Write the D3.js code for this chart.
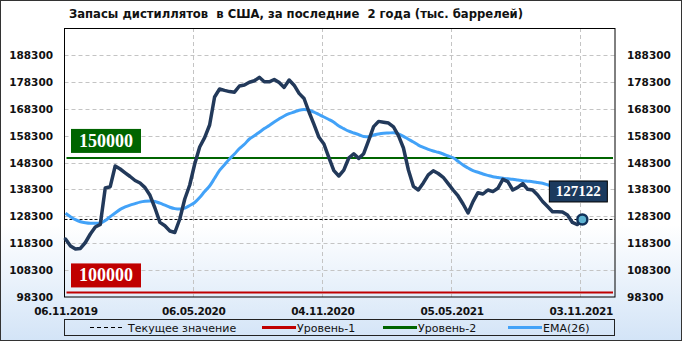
<!DOCTYPE html>
<html>
<head>
<meta charset="utf-8">
<script src="https://cdn.jsdelivr.net/npm/d3@7"></script>
<style>
  body { margin: 0; background: #fff; }
  svg { display: block; }
  text { font-family: "DejaVu Sans", sans-serif; }
</style>
</head>
<body>
<svg id="chart" width="682" height="341"></svg>
<script>
const title = "Запасы дистиллятов  в США, за последние  2 года (тыс. баррелей)";

// weekly values, first week 06.11.2019
const firstWeek = "2019-11-06";
const stocks = [
  119860, 117260, 116140, 116370, 118560, 121720, 124320, 125290, 138820, 139300,
  147000, 145880, 144470, 143100, 141610, 140680, 138970, 136110, 131390, 126030,
  124770, 122840, 122280, 127300, 134730, 139940, 147740, 154060, 157520, 162240,
  172650, 175620, 175100, 174660, 174430, 176740, 177110, 178150, 178670, 179970,
  178340, 178300, 179160, 178000, 176220, 178970, 177040, 173990, 172090, 167070,
  162460, 157670, 155180, 150120, 145290, 143280, 145440, 149970, 151570, 149830,
  151570, 156520, 161650, 163580, 163280, 162950, 161500, 158300, 153690, 145510,
  139450, 138080, 140720, 143730, 145210, 144210, 142800, 140420, 138080, 135850,
  132870, 129530, 133770, 137070, 136590, 138080, 137480, 138710, 142020, 141160,
  138080, 139040, 140490, 138340, 138080, 136220, 133800, 131940, 130010, 130010,
  129900, 128780, 126000, 125250, 127122
];
const ema26 = [
  129420, 128150, 127040, 126290, 125880, 125700, 125700, 125810, 126700, 128190,
  129530, 130870, 131760, 132460, 133020, 133580, 133880, 133990, 133800, 133170,
  132430, 131680, 131160, 130980, 131350, 132320, 133430, 135290, 137520, 139560,
  142430, 145330, 147480, 149600, 151460, 153510, 155070, 157040, 158230, 159560,
  160900, 162060, 163360, 164510, 165590, 166440, 167070, 167710, 167970, 167740,
  167070, 166140, 165220, 164290, 163250, 161870, 160870, 159940, 159270, 158670,
  158000, 157890, 158520, 158900, 159160, 159270, 159380, 158900, 158040, 156960,
  155920, 154770, 153910, 153170, 152580, 152090, 151460, 150720, 150050, 148750,
  147370, 146260, 145250, 144660, 144030, 143510, 143020, 142720, 142430, 142240,
  142060, 141800, 141540, 141350, 141160, 140870, 140570, 140050, 139490, 138900,
  138260, 137630, 136890, 136140, 135480
];
const yTicks = [98300, 108300, 118300, 128300, 138300, 148300, 158300, 168300, 178300, 188300];
const xTickLabels = ["06.11.2019", "06.05.2020", "04.11.2020", "05.05.2021", "03.11.2021"];
const level1 = 100000;
const level2 = 150000;
const legendNames = ["Текущее значение", "Уровень-1", "Уровень-2", "EMA(26)"];

const W = 682, H = 341;
const plotL = 64.5, plotR = 615, plotT = 28, plotB = 297;

const start = new Date(firstWeek + "T00:00:00");
const dates = stocks.map((_, i) => d3.timeDay.offset(start, i * 7));
const parseTick = d3.timeParse("%d.%m.%Y");

const x = d3.scaleTime()
  .domain([start, d3.timeDay.offset(start, 774)])
  .range([plotL + 1, plotR]);
const y = d3.scaleLinear()
  .domain([98300, 198300])
  .range([plotB, plotT]);

const svg = d3.select("#chart");

// background
const grad = svg.append("defs").append("linearGradient")
  .attr("id", "bg").attr("x1", 0).attr("x2", 0).attr("y1", 0).attr("y2", 1);
grad.append("stop").attr("offset", 0.66).attr("stop-color", "#ffffff");
grad.append("stop").attr("offset", 1).attr("stop-color", "#d3e4f7");
svg.append("rect").attr("x", 0.5).attr("y", 0.5).attr("width", W - 1).attr("height", H - 1)
  .attr("fill", "url(#bg)").attr("stroke", "#333").attr("stroke-width", 1);

// title
svg.append("text")
  .attr("x", 69).attr("y", 18)
  .attr("font-size", 13).attr("font-weight", "bold")
  .attr("textLength", 454).attr("lengthAdjust", "spacingAndGlyphs")
  .style("white-space", "pre")
  .attr("fill", "#111")
  .text(title);

// grid
const grid = svg.append("g");
grid.selectAll(".hg").data(yTicks.slice(1)).join("line")
  .attr("x1", plotL).attr("x2", plotR)
  .attr("y1", d => Math.round(y(d)) + 0.5).attr("y2", d => Math.round(y(d)) + 0.5)
  .attr("stroke", "#c4c4c4").attr("stroke-dasharray", "4,3");
grid.selectAll(".vg").data(xTickLabels.slice(1)).join("line")
  .attr("x1", d => Math.round(x(parseTick(d))) - 1.5).attr("x2", d => Math.round(x(parseTick(d))) - 1.5)
  .attr("y1", plotT).attr("y2", plotB)
  .attr("stroke", "#c4c4c4").attr("stroke-dasharray", "4,3");

// y labels both sides
const yl = svg.append("g").attr("font-size", 10.5).attr("font-weight", "bold").attr("fill", "#111");
yl.selectAll(".l").data(yTicks).join("text")
  .attr("x", 53).attr("y", d => y(d) + 4)
  .attr("text-anchor", "end").text(d => d);
yl.selectAll(".r").data(yTicks).join("text")
  .attr("x", 627).attr("y", d => y(d) + 4)
  .attr("text-anchor", "start").text(d => d);

// x labels
svg.append("g").attr("font-size", 10.5).attr("font-weight", "bold").attr("fill", "#111")
  .selectAll("text").data(xTickLabels).join("text")
  .attr("x", (d, i) => i === 0 ? 66 : x(parseTick(d)) - 1)
  .attr("y", 315)
  .attr("text-anchor", "middle")
  .attr("letter-spacing", -0.3)
  .text(d => d);

// level lines
const lastVal = stocks[stocks.length - 1];
svg.append("line")
  .attr("x1", plotL).attr("x2", plotR).attr("y1", y(lastVal)).attr("y2", y(lastVal))
  .attr("stroke", "#000").attr("stroke-width", 1).attr("stroke-dasharray", "3,2");
svg.append("line")
  .attr("x1", plotL + 2).attr("x2", plotR - 2).attr("y1", y(level2)).attr("y2", y(level2))
  .attr("stroke", "#006400").attr("stroke-width", 2);
svg.append("line")
  .attr("x1", plotL + 2).attr("x2", plotR - 2).attr("y1", y(level1)).attr("y2", y(level1))
  .attr("stroke", "#c00000").attr("stroke-width", 2);

// level boxes
function levelBox(val, fill) {
  const g = svg.append("g");
  const yy = y(val);
  g.append("rect").attr("x", 71).attr("y", yy - 29).attr("width", 70).attr("height", 24).attr("fill", fill);
  g.append("text").attr("x", 106).attr("y", yy - 11)
    .attr("text-anchor", "middle").attr("fill", "#fff")
    .attr("font-weight", "bold").attr("font-size", 18)
    .style("font-family", "'Liberation Serif', serif")
    .text(val);
}
levelBox(level2, "#006400");
levelBox(level1, "#c00000");

// plot border
svg.append("rect").attr("x", plotL).attr("y", plotT + 0.5).attr("width", plotR - plotL).attr("height", plotB - plotT - 0.5)
  .attr("fill", "none").attr("stroke", "#000").attr("stroke-width", 1);

// lines
const emaLine = d3.line().x((d, i) => x(dates[i])).y(d => y(d)).curve(d3.curveMonotoneX);
const stockLine = d3.line().x((d, i) => x(dates[i])).y(d => y(d));
svg.append("path").datum(ema26).attr("d", emaLine)
  .attr("fill", "none").attr("stroke", "#42a2f8").attr("stroke-width", 3);
svg.append("path").datum(stocks).attr("d", stockLine)
  .attr("fill", "none").attr("stroke", "#22395a").attr("stroke-width", 3.5)
  .attr("stroke-linejoin", "round").attr("stroke-linecap", "round");

// last value marker
const lx = x(dates[dates.length - 1]), ly = y(lastVal);
svg.append("circle").attr("cx", lx).attr("cy", ly).attr("r", 5)
  .attr("fill", "#5fb4d2").attr("stroke", "#12325a").attr("stroke-width", 2.5);
svg.append("rect").attr("x", lx - 33).attr("y", ly - 38.5).attr("width", 58).attr("height", 21)
  .attr("fill", "#1b3a5e").attr("stroke", "#000").attr("stroke-width", 1);
svg.append("text").attr("x", lx - 4).attr("y", ly - 23)
  .attr("text-anchor", "middle").attr("fill", "#fff")
  .attr("font-weight", "bold").attr("font-size", 15)
  .style("font-family", "'Liberation Serif', serif")
  .text(lastVal);

// legend
const lg = svg.append("g");
lg.append("rect").attr("x", 64.5).attr("y", 319.5).attr("width", 550).attr("height", 16)
  .attr("fill", "none").attr("stroke", "#222");
const legendX = [90, 262, 383, 508];
const legendStroke = ["#000", "#c00000", "#006400", "#42a2f8"];
legendNames.forEach((name, i) => {
  const lx0 = legendX[i];
  lg.append("line").attr("x1", lx0).attr("x2", lx0 + 34).attr("y1", 327.5).attr("y2", 327.5)
    .attr("stroke", legendStroke[i])
    .attr("stroke-width", i === 0 ? 1 : 3)
    .attr("stroke-dasharray", i === 0 ? "4,3" : null);
  lg.append("text").attr("x", lx0 + (i === 0 ? 38 : 35)).attr("y", 331.5)
    .attr("font-size", 11).attr("fill", "#111").text(name);
});
</script>
</body>
</html>
